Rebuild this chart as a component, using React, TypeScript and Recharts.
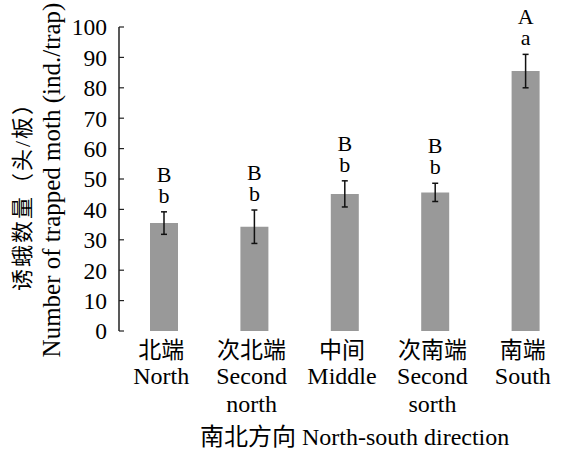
import { BarChart, Bar, XAxis, YAxis, ErrorBar, LabelList } from "recharts";

const categoriesZh = ["北端", "次北端", "中间", "次南端", "南端"];
const categoriesEn = [["North"], ["Second", "north"], ["Middle"], ["Second", "sorth"], ["South"]];
const means = [35.5, 34.3, 45.1, 45.6, 85.5];
const errors = [3.7, 5.5, 4.3, 3.0, 5.5];
const upperLetters = ["B", "B", "B", "B", "A"];
const lowerLetters = ["b", "b", "b", "b", "a"];
const yTicks = [0, 10, 20, 30, 40, 50, 60, 70, 80, 90, 100];
const boundaryTicks = [0, 1, 2, 3, 4, 5];

const FONT = "'Liberation Serif', 'Times New Roman', 'Noto Sans CJK SC', serif";

const data = categoriesZh.map((zh, i) => ({
  name: zh,
  mean: means[i],
  err: errors[i],
}));

function CategoryTick({ x, y, payload }: any) {
  const i = categoriesZh.indexOf(payload.value);
  const en = categoriesEn[i] || [];
  return (
    <g fontFamily={FONT} fontSize={24} fill="#000">
      <text x={x - 3} y={y + 27} textAnchor="middle" fill="#000" fontSize={23}>
        {payload.value}
      </text>
      {en.map((line, k) => (
        <text key={k} x={x - 3} y={y + 53 + k * 28} textAnchor="middle" fill="#000">
          {line}
        </text>
      ))}
    </g>
  );
}

function LetterLabel({ x, y, width, height, value, index }: any) {
  const pxPerUnit = height / value;
  const top = y - errors[index] * pxPerUnit;
  const cx = x + width / 2;
  return (
    <g fontFamily={FONT} fontSize={22} fill="#000">
      <text x={cx} y={top - 9} textAnchor="middle" fill="#000">
        {lowerLetters[index]}
      </text>
      <text x={cx} y={top - 30} textAnchor="middle" fill="#000">
        {upperLetters[index]}
      </text>
    </g>
  );
}

function YTitle() {
  return (
    <g fontFamily={FONT} fill="#000">
      <text x={30} y={191} transform="rotate(-90, 30, 191)" textAnchor="middle" fill="#000" fontSize={22} letterSpacing={2}>
        诱蛾数量（头/板）
      </text>
      <text x={60} y={180} transform="rotate(-90, 60, 180)" textAnchor="middle" fill="#000" fontSize={25}>
        Number of trapped moth (ind./trap)
      </text>
    </g>
  );
}

function XTitle() {
  return (
    <text x={200} y={445} textAnchor="start" fontFamily={FONT} fontSize={24} fill="#000">
      南北方向 North-south direction
    </text>
  );
}

export default function App() {
  return (
    <div style={{ position: "absolute", left: 0, top: 0, background: "#fff" }}>
      <BarChart width={573} height={451} data={data} margin={{ top: 27, right: 2, left: 0, bottom: 0 }}>
        <XAxis
          xAxisId="edge"
          type="number"
          domain={[0, 5]}
          allowDataOverflow
          ticks={boundaryTicks}
          tick={false}
          tickSize={-4}
          height={0}
          axisLine={{ stroke: "#222", strokeWidth: 1.5 }}
          tickLine={{ stroke: "#222", strokeWidth: 1.2 }}
        />
        <XAxis
          xAxisId="cat"
          dataKey="name"
          height={120}
          axisLine={false}
          tickLine={false}
          tickSize={0}
          tickMargin={0}
          interval={0}
          tick={<CategoryTick />}
          label={<XTitle />}
        />
        <YAxis
          width={119}
          domain={[0, 100]}
          ticks={yTicks}
          interval={0}
          tickSize={-5}
          tickMargin={17}
          axisLine={{ stroke: "#222", strokeWidth: 1.5 }}
          tickLine={{ stroke: "#222", strokeWidth: 1.2 }}
          tick={{ fill: "#000", fontSize: 23.5, fontFamily: FONT }}
          label={<YTitle />}
        />
        <Bar xAxisId="cat" dataKey="mean" fill="#999999" barSize={28} isAnimationActive={false}>
          <ErrorBar dataKey="err" width={3} stroke="#111" strokeWidth={1.5} direction="y" />
          <LabelList dataKey="mean" content={<LetterLabel />} />
        </Bar>
      </BarChart>
    </div>
  );
}
